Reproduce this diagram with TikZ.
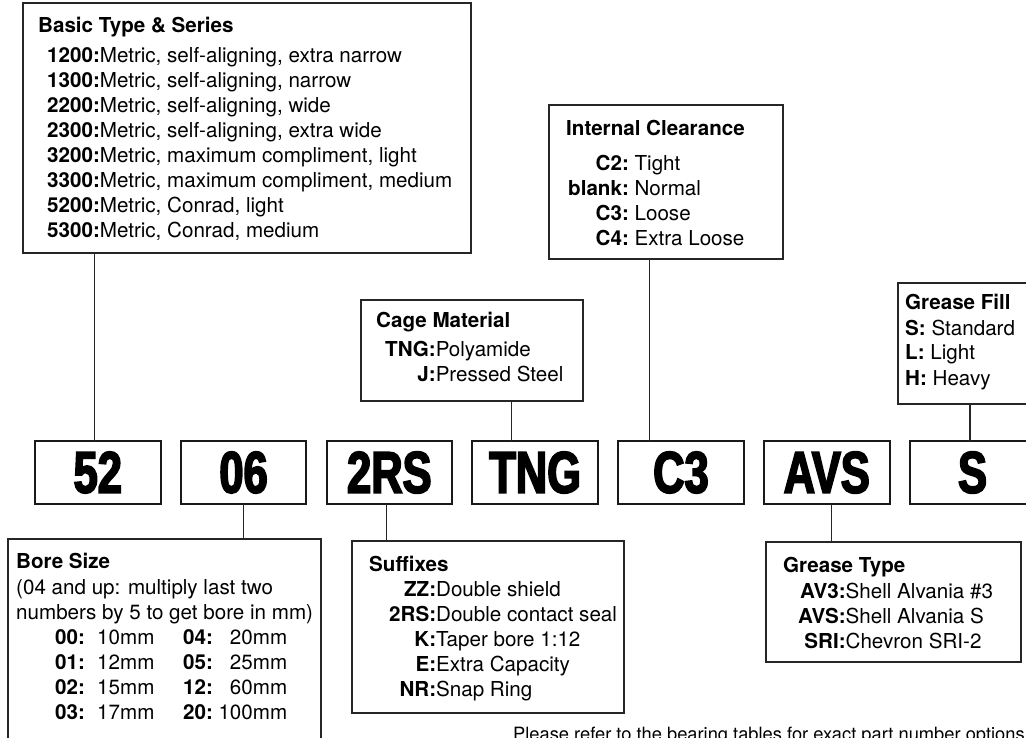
\documentclass[tikz,border=0pt]{standalone}
\usepackage{fontspec}
\setmainfont{TeX Gyre Heros}
\newfontfamily\codefont[FakeStretch=0.74,FakeBold=3]{Liberation Sans}
\usetikzlibrary{positioning}

\newcommand{\borerow}[4]{\hspace*{39pt}\makebox[42pt][l]{\textbf{#1:}}\makebox[86pt][l]{#2}\makebox[104pt][l]{\textbf{#3:}\hfill#4}}

\begin{document}
\begin{tikzpicture}[x=1pt,y=-1pt,
      infobox/.style={
         rectangle,
         draw=black!85,
         line width=1.2pt,
         anchor=north west,
         inner sep=0pt, outer sep=0pt
      },
      codebox/.style={
         rectangle,
         draw=black!90,
         line width=2pt,
         minimum width=125.5pt, minimum height=63pt,
         inner sep=0pt, outer sep=0pt,
         font=\codefont\bfseries\fontsize{58.7}{60}\selectfont
      },
      infotext/.style={anchor=base west,inner sep=0pt,font=\fontsize{20.6}{25}\selectfont},
      link/.style={draw=black!85,line width=1.2pt},
      node distance=20.3pt
    ]
    \useasboundingbox (0,0) rectangle (1026,738);
    % part number
    \node (c52) [codebox, anchor=north west] at (35,441) {52};
    \node (c06) [codebox, right=of c52] {06};
    \node (c2RS) [codebox, right=of c06] {2RS};
    \node (cTNG) [codebox, right=of c2RS] {TNG};
    \node (cC3) [codebox, right=of cTNG] {C3};
    \node (cAVS) [codebox, right=of cC3] {AVS};
    \node (cS) [codebox, right=of cAVS] {S};
    % boxes
    \node (basic) [infobox, minimum width=448pt, minimum height=250pt] at (23,3) {};
    \node (clear) [infobox, minimum width=234pt, minimum height=154pt] at (549,105) {};
    \node (cage) [infobox, minimum width=222pt, minimum height=101pt] at (361,300) {};
    \node (fill) [infobox, minimum width=140pt, minimum height=121pt] at (898,283) {};
    \node (bore) [infobox, minimum width=313pt, minimum height=220pt] at (8,539) {};
    \node (suffix) [infobox, minimum width=272pt, minimum height=172pt] at (352,541) {};
    \node (greasetype) [infobox, minimum width=255pt, minimum height=120pt] at (766,542) {};
    % texts
    \node (basictext) [infotext] at ([shift={(15,30)}]basic.north west) {\begin{tabular}[t]{@{}l@{}}
      \textbf{Basic Type \& Series}\\[5pt]
      \hspace*{9pt}\textbf{1200:}Metric, self-aligning, extra narrow\\
      \hspace*{9pt}\textbf{1300:}Metric, self-aligning, narrow\\
      \hspace*{9pt}\textbf{2200:}Metric, self-aligning, wide\\
      \hspace*{9pt}\textbf{2300:}Metric, self-aligning, extra wide\\
      \hspace*{9pt}\textbf{3200:}Metric, maximum compliment, light\\
      \hspace*{9pt}\textbf{3300:}Metric, maximum compliment, medium\\
      \hspace*{9pt}\textbf{5200:}Metric, Conrad, light\\
      \hspace*{9pt}\textbf{5300:}Metric, Conrad, medium
    \end{tabular}};
    \node (cleartext) [infotext] at ([shift={(17,30.5)}]clear.north west) {\begin{tabular}[t]{@{\hspace{2pt}}r@{\ }l@{}}
      \multicolumn{2}{@{}l@{}}{\textbf{Internal Clearance}}\\[10pt]
      \textbf{C2:} & Tight\\
      \textbf{blank:} & Normal\\
      \textbf{C3:} & Loose\\
      \textbf{C4:} & Extra Loose
    \end{tabular}};
    \node (cagetext) [infotext] at ([shift={(15,27)}]cage.north west) {\begin{tabular}[t]{@{\hspace{9pt}}r@{}l@{}}
      \multicolumn{2}{@{}l@{}}{\textbf{Cage Material}}\\[4pt]
      \textbf{TNG:} & Polyamide\\
      \textbf{J:} & Pressed Steel
    \end{tabular}};
    \node (filltext) [infotext] at ([shift={(7,26)}]fill.north west) {\begin{tabular}[t]{@{}l@{}}
      \textbf{Grease Fill}\\[1pt]
      \textbf{S:} Standard\\
      \textbf{L:} Light\\
      \textbf{H:} Heavy
    \end{tabular}};
    \node (boretext) [infotext] at ([shift={(8,29)}]bore.north west) {\begin{tabular}[t]{@{}l@{}}
      \textbf{Bore Size}\\[1pt]
      (04 and up: multiply last two\\
      numbers by 5 to get bore in mm)\\
      \borerow{00}{10mm}{04}{20mm}\\
      \borerow{01}{12mm}{05}{25mm}\\
      \borerow{02}{15mm}{12}{60mm}\\
      \borerow{03}{17mm}{20}{100mm}
    \end{tabular}};
    \node (suffixtext) [infotext] at ([shift={(17,30)}]suffix.north west) {\begin{tabular}[t]{@{\hspace{20pt}}r@{}l@{}}
      \multicolumn{2}{@{}l@{}}{\textbf{Suffixes}}\\
      \textbf{ZZ:} & Double shield\\
      \textbf{2RS:} & Double contact seal\\
      \textbf{K:} & Taper bore 1:12\\
      \textbf{E:} & Extra Capacity\\
      \textbf{NR:} & Snap Ring
    \end{tabular}};
    \node (greasetypetext) [infotext] at ([shift={(17,30)}]greasetype.north west) {\begin{tabular}[t]{@{\hspace{15pt}}r@{}l@{}}
      \multicolumn{2}{@{}l@{}}{\textbf{Grease Type}}\\[1pt]
      \textbf{AV3:} & Shell Alvania \#3\\
      \textbf{AVS:} & Shell Alvania S\\
      \textbf{SRI:} & Chevron SRI-2
    \end{tabular}};
    \node (note) [anchor=base west, inner sep=0pt, font=\fontsize{18.3}{22}\selectfont] at (513,740) {Please refer to the bearing tables for exact part number options.};
    % connectors
    \draw[link] ([xshift=-3.5pt]c52.north) -- ([xshift=-3.5pt]c52.north |- basic.south);
    \draw[link] (c06.south) -- (c06.south |- bore.north);
    \draw[link] ([xshift=-2.5pt]c2RS.south) -- ([xshift=-2.5pt]c2RS.south |- suffix.north);
    \draw[link] ([xshift=-24pt]cTNG.north) -- ([xshift=-24pt]cTNG.north |- cage.south);
    \draw[link] ([xshift=-31.5pt]cC3.north) -- ([xshift=-31.5pt]cC3.north |- clear.south);
    \draw[link] ([xshift=4.5pt]cAVS.south) -- ([xshift=4.5pt]cAVS.south |- greasetype.north);
    \draw[link] ([xshift=-2.5pt]cS.north) -- ([xshift=-2.5pt]cS.north |- fill.south);
\end{tikzpicture}
\end{document}
